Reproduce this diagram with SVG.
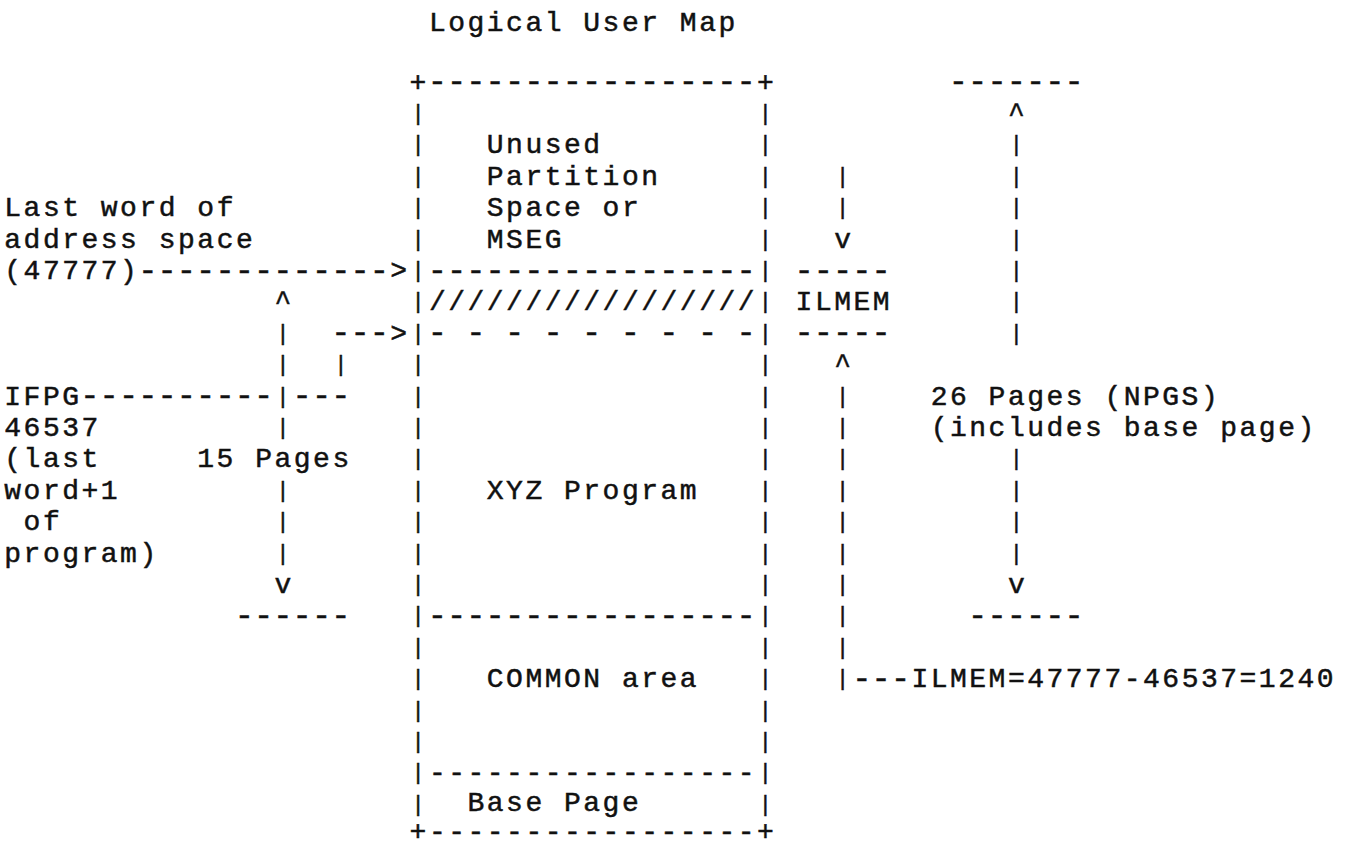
<svg xmlns="http://www.w3.org/2000/svg" width="1348" height="848" viewBox="0 0 1348 848">
<style>
  text { font-family: "Liberation Mono", "DejaVu Sans Mono", monospace; fill: #111; stroke: #111; stroke-width: 0.5px; }
  .t { font-size: 28px; letter-spacing: 2.5px; }
  .d { font-size: 32px; letter-spacing: 0.1px; }
  .bar { font-size: 22px; text-anchor: middle; }
</style>
<rect width="1348" height="848" fill="#fff"/>

<g id="title">
  <text class="t" x="428.9" y="31">Logical User Map</text>
</g>

<g id="box">
  <text class="t" x="409.6" y="90.5">+</text>
  <text class="d" x="427.7" y="91.1">-----------------</text>
  <text class="t" x="756.9" y="90.5">+</text>
  <text class="d" x="427.7" y="279.5">-----------------</text>
  <text class="t" x="428.9" y="310.3">/////////////////</text>
  <text class="d" x="427.7" y="342.3">- - - - - - - - -</text>
  <text class="d" x="427.7" y="624.9">-----------------</text>
  <text class="t" x="428.9" y="781.3">-----------------</text>
  <text class="t" x="409.6" y="839.5">+-----------------+</text>
  <text class="bar" x="418 418 418 418 418 418 418 418 418 418 418 418 418 418 418 418 418 418 418 418 418 418 418" y="120 151.4 182.8 214.2 245.6 277 308.4 339.8 371.2 402.6 434 465.4 496.8 528.2 559.6 591 622.4 653.8 685.2 716.6 748 779.4 810.8">|||||||||||||||||||||||</text>
  <text class="bar" x="765.4 765.4 765.4 765.4 765.4 765.4 765.4 765.4 765.4 765.4 765.4 765.4 765.4 765.4 765.4 765.4 765.4 765.4 765.4 765.4 765.4 765.4 765.4" y="120 151.4 182.8 214.2 245.6 277 308.4 339.8 371.2 402.6 434 465.4 496.8 528.2 559.6 591 622.4 653.8 685.2 716.6 748 779.4 810.8">|||||||||||||||||||||||</text>
</g>

<g id="unused-partition">
  <text class="t" x="486.8" y="153.3">Unused</text>
  <text class="t" x="486.8" y="184.7">Partition</text>
  <text class="t" x="486.8" y="216.1">Space or</text>
  <text class="t" x="486.8" y="247.5">MSEG</text>
</g>
<g id="xyz-program">
  <text class="t" x="486.8" y="498.7">XYZ Program</text>
</g>
<g id="common-area">
  <text class="t" x="486.8" y="687.1">COMMON area</text>
</g>
<g id="base-page">
  <text class="t" x="467.5" y="810.5">Base Page</text>
</g>

<g id="last-word-label">
  <text class="t" x="4.3" y="216.1">Last word of</text>
  <text class="t" x="4.3" y="247.5">address space</text>
  <text class="t" x="4.3" y="278.9">(47777)</text>
</g>

<g id="ifpg-label">
  <text class="t" x="4.3" y="404.5">IFPG</text>
  <text class="t" x="4.3" y="435.9">46537</text>
  <text class="t" x="4.3" y="467.3">(last</text>
  <text class="t" x="4.3" y="498.7">word+1</text>
  <text class="t" x="23.6" y="530.1">of</text>
  <text class="t" x="4.3" y="561.5">program)</text>
</g>

<g id="fifteen-pages">
  <text class="t" x="197.3" y="467.3">15 Pages</text>
</g>

<g id="ilmem-label">
  <text class="t" x="795.6" y="310.3">ILMEM</text>
</g>

<g id="npgs-label">
  <text class="t" x="930.7" y="404.5">26 Pages (NPGS)</text>
  <text class="t" x="930.7" y="435.9">(includes base page)</text>
</g>

<g id="ilmem-formula">
  <text class="d" x="852.3" y="687.7">---</text>
  <text class="t" x="911.4" y="687.1">ILMEM=47777-46537=1240</text>
</g>

<g id="connectors">
  <!-- last word of address space arrow -->
  <text class="d" x="138.2" y="279.5">-------------</text>
  <text class="t" x="390.3" y="278.9">&gt;</text>
  <!-- IFPG leader and 15 pages extent -->
  <text class="d" x="80.3" y="405.1">----------</text>
  <text class="d" x="292.6" y="405.1">---</text>
  <text class="d" x="331.2" y="342.3">---</text>
  <text class="t" x="390.3" y="341.7">&gt;</text>
  <text class="t" x="274.5" y="310.3">^</text>
  <text class="bar" x="282.9 282.9 282.9 282.9" y="339.8 371.2 402.6 434">||||</text>
  <text class="bar" x="282.9 282.9 282.9" y="496.8 528.2 559.6">|||</text>
  <text class="bar" x="340.8" y="371.2">|</text>
  <text class="t" x="274.5" y="592.9">v</text>
  <text class="d" x="234.7" y="624.9">------</text>
  <!-- ILMEM extent -->
  <text class="bar" x="842.6 842.6" y="182.8 214.2">||</text>
  <text class="t" x="834.2" y="247.5">v</text>
  <text class="d" x="794.4" y="279.5">-----</text>
  <text class="d" x="794.4" y="342.3">-----</text>
  <text class="t" x="834.2" y="373.1">^</text>
  <text class="bar" x="842.6 842.6 842.6 842.6 842.6 842.6 842.6 842.6 842.6 842.6" y="402.6 434 465.4 496.8 528.2 559.6 591 622.4 653.8 685.2">||||||||||</text>
  <!-- 26 pages (NPGS) extent -->
  <text class="d" x="948.8" y="91.1">-------</text>
  <text class="t" x="1007.9" y="121.9">^</text>
  <text class="bar" x="1016.3 1016.3 1016.3 1016.3 1016.3 1016.3 1016.3" y="151.4 182.8 214.2 245.6 277 308.4 339.8">|||||||</text>
  <text class="bar" x="1016.3 1016.3 1016.3 1016.3" y="465.4 496.8 528.2 559.6">||||</text>
  <text class="t" x="1007.9" y="592.9">v</text>
  <text class="d" x="968.1" y="624.9">------</text>
</g>
</svg>
